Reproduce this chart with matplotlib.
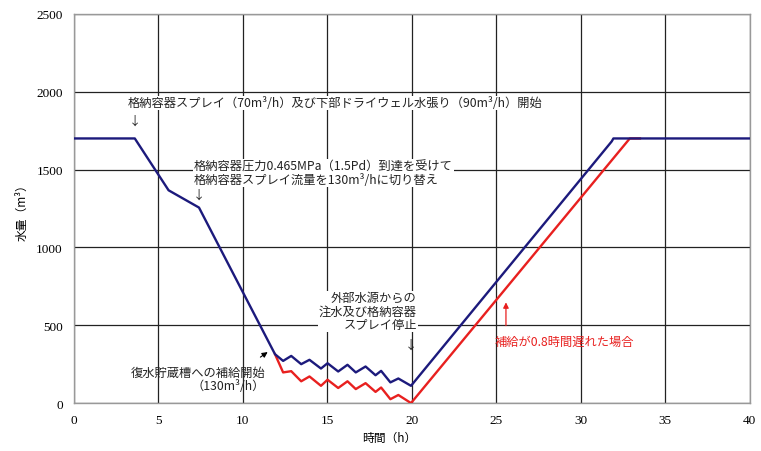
import matplotlib
matplotlib.use("Agg")
import matplotlib.pyplot as plt

plt.rcParams['font.family'] = ['Noto Sans CJK JP', 'DejaVu Sans']

# 基本ケース（青）
t_base = [0, 3.6, 5.6, 7.4, 11.9, 12.38, 12.86, 13.45, 13.94, 14.62, 15.01, 15.64,
          16.19, 16.68, 17.26, 17.85, 18.18, 18.73, 19.2, 19.95, 31.83, 31.93, 40]
v_base = [1700, 1700, 1367, 1256, 314, 271, 303, 250, 278, 222, 256, 203,
          246, 197, 235, 179, 207, 133, 158, 111, 1681, 1700, 1700]

# 補給が0.8時間遅れた場合（赤）
t_late = [11.9, 12.38, 12.86, 13.45, 13.94, 14.62, 15.01, 15.64, 16.19, 16.68,
          17.26, 17.85, 18.18, 18.73, 19.2, 19.95, 32.9, 33.5]
v_late = [314, 197, 205, 140, 171, 111, 150, 97, 140, 90,
          128, 72, 100, 25, 52, 0, 1700, 1700]

x_ticks = [0, 5, 10, 15, 20, 25, 30, 35, 40]
y_ticks = [0, 500, 1000, 1500, 2000, 2500]

fig = plt.figure(figsize=(7.61, 4.52), dpi=100)
ax = fig.add_axes([0.0972, 0.106, 0.888, 0.861])

ax.plot(t_late, v_late, color='#e8201f', lw=1.7, zorder=3)
ax.plot(t_base, v_base, color='#1c1a7c', lw=1.7, zorder=4)

ax.set_xlim(0, 40)
ax.set_ylim(0, 2500)
ax.set_xticks(x_ticks)
ax.set_yticks(y_ticks)
ax.tick_params(length=0, labelsize=9.5, pad=8)
for lab in ax.get_xticklabels() + ax.get_yticklabels():
    lab.set_fontfamily('Liberation Serif')
ax.grid(True, color='#222222', lw=0.9)
for s in ax.spines.values():
    s.set_color('#999999')
    s.set_linewidth(1.0)

ax.set_xlabel('時間（h）', fontsize=8.5)
ax.xaxis.set_label_coords(0.466, -0.072)
ax.set_ylabel('水量（m³）', fontsize=8.5)
ax.yaxis.set_label_coords(-0.068, 0.5)

box = dict(facecolor='white', edgecolor='none', pad=0.5)
fs = 8.8

ax.text(3.17, 1929, '格納容器スプレイ（70m³/h）及び下部ドライウェル水張り（90m³/h）開始',
        fontsize=fs, va='center', ha='left', color='#222222', bbox=box, zorder=5)
ax.text(3.6, 1820, '↓', fontsize=fs, ha='center', va='center', color='#222222')

ax.text(7.1, 1481, '格納容器圧力0.465MPa（1.5Pd）到達を受けて\n格納容器スプレイ流量を130m³/hに切り替え',
        fontsize=fs, va='center', ha='left', color='#222222', linespacing=1.05,
        bbox=box, zorder=5)
ax.text(7.4, 1340, '↓', fontsize=fs, ha='center', va='center', color='#222222')

ax.text(20.3, 590, '外部水源からの\n注水及び格納容器\nスプレイ停止',
        fontsize=fs, va='center', ha='right', multialignment='right',
        color='#222222', linespacing=1.05, bbox=box, zorder=5)
ax.text(19.95, 378, '↓', fontsize=fs, ha='center', va='center', color='#222222')

ax.text(11.32, 154, '復水貯蔵槽への補給開始\n（130m³/h）',
        fontsize=fs, va='center', ha='right', multialignment='right',
        color='#222222', linespacing=1.05, zorder=5)
ax.annotate('', xy=(11.6, 338), xytext=(10.9, 285),
            arrowprops=dict(arrowstyle='-|>', color='black', lw=0.8,
                            mutation_scale=8))

ax.text(24.87, 397, '補給が0.8時間遅れた場合', fontsize=fs, va='center', ha='left',
        color='#e8201f', zorder=5)
ax.annotate('', xy=(25.57, 665), xytext=(25.57, 480),
            arrowprops=dict(arrowstyle='-|>', color='#e8201f', lw=0.9,
                            mutation_scale=8))

fig.savefig('out.png', dpi=100)
